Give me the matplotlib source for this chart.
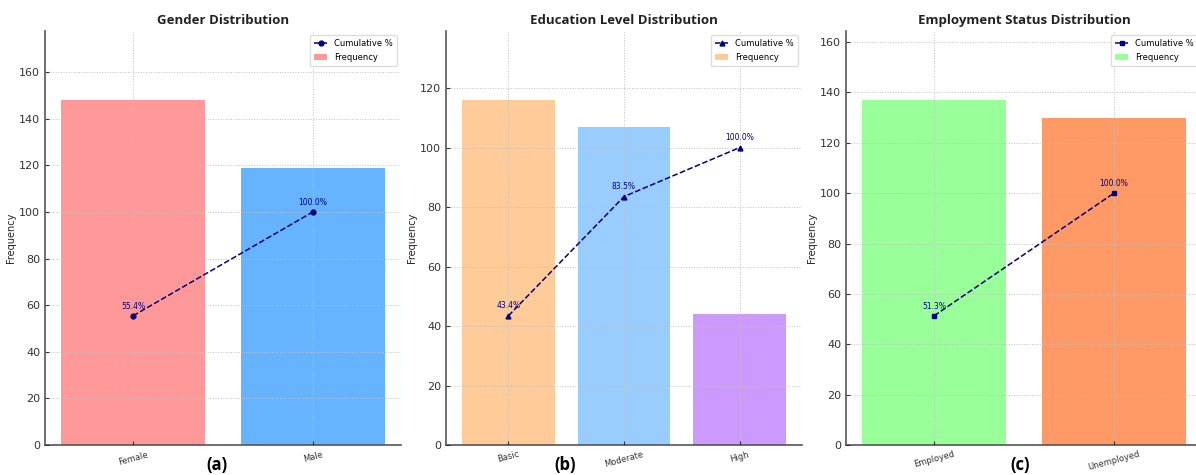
import numpy as np
import matplotlib
matplotlib.use("Agg")
import matplotlib.pyplot as plt

# data
gender_labels = ["Female", "Male"]
gender_counts = [148, 119]
gender_colors = ["#ff9999", "#66b3ff"]

edu_labels = ["Basic", "Moderate", "High"]
edu_counts = [116, 107, 44]
edu_colors = ["#ffcc99", "#99ccff", "#cc99ff"]

emp_labels = ["Employed", "Unemployed"]
emp_counts = [137, 130]
emp_colors = ["#99ff99", "#ff9966"]

panels = [
    ("Gender Distribution", gender_labels, gender_counts, gender_colors, "o", "(a)"),
    ("Education Level Distribution", edu_labels, edu_counts, edu_colors, "^", "(b)"),
    ("Employment Status Distribution", emp_labels, emp_counts, emp_colors, "s", "(c)"),
]

W, H = 1196, 475
fig = plt.figure(figsize=(W / 100, H / 100), dpi=100)

lefts = [45, 446, 846]
ax_w = 356
ax_top, ax_bot = 31, 445
letter_x = [217, 565, 1020]

for (title, labels, counts, colors, marker, letter), left, lx in zip(panels, lefts, letter_x):
    ax = fig.add_axes([left / W, 1 - ax_bot / H, ax_w / W, (ax_bot - ax_top) / H])
    x = np.arange(len(labels))
    counts = np.array(counts)
    cum = np.cumsum(counts) / counts.sum() * 100

    ax.bar(x, counts, width=0.8, color=colors, zorder=1, label="Frequency")
    ax.plot(x, cum, linestyle="--", color="navy", marker=marker,
            markersize=3.5, linewidth=1.1, zorder=3, label="Cumulative %")
    for xi, c in zip(x, cum):
        ax.text(xi, c + 2, f"{c:.1f}%", ha="center", va="bottom",
                fontsize=5.5, color="navy", zorder=4)

    ax.set_ylim(0, counts.max() * 1.2)
    ax.set_xticks(x)
    ax.set_xticklabels(labels, rotation=15, fontsize=6, color="#333333")
    ax.tick_params(axis="y", labelsize=8, colors="#333333", direction="in", length=3)
    ax.tick_params(axis="x", direction="in", length=3, colors="#333333")
    ax.set_ylabel("Frequency", fontsize=7, color="#222222", labelpad=2)
    ax.set_title(title, fontsize=9.5, fontweight="bold", color="#222222",
                 family="Open Sans", pad=5)

    ax.grid(True, linestyle=":", color="#c0c0c0", linewidth=0.7, zorder=2)
    ax.set_axisbelow(False)
    for side in ["top", "right"]:
        ax.spines[side].set_visible(False)
    for side in ["left", "bottom"]:
        ax.spines[side].set_color("#555555")
        ax.spines[side].set_linewidth(1.2)

    ax.legend(loc="upper right", fontsize=6, frameon=True, framealpha=1,
              edgecolor="#dddddd", borderpad=0.5, handlelength=1.6)

    fig.text(lx / W, 1 - 465 / H, letter, ha="center", va="center",
             fontsize=12, fontweight="bold", family="Open Sans")

fig.savefig("out.png", dpi=100)
